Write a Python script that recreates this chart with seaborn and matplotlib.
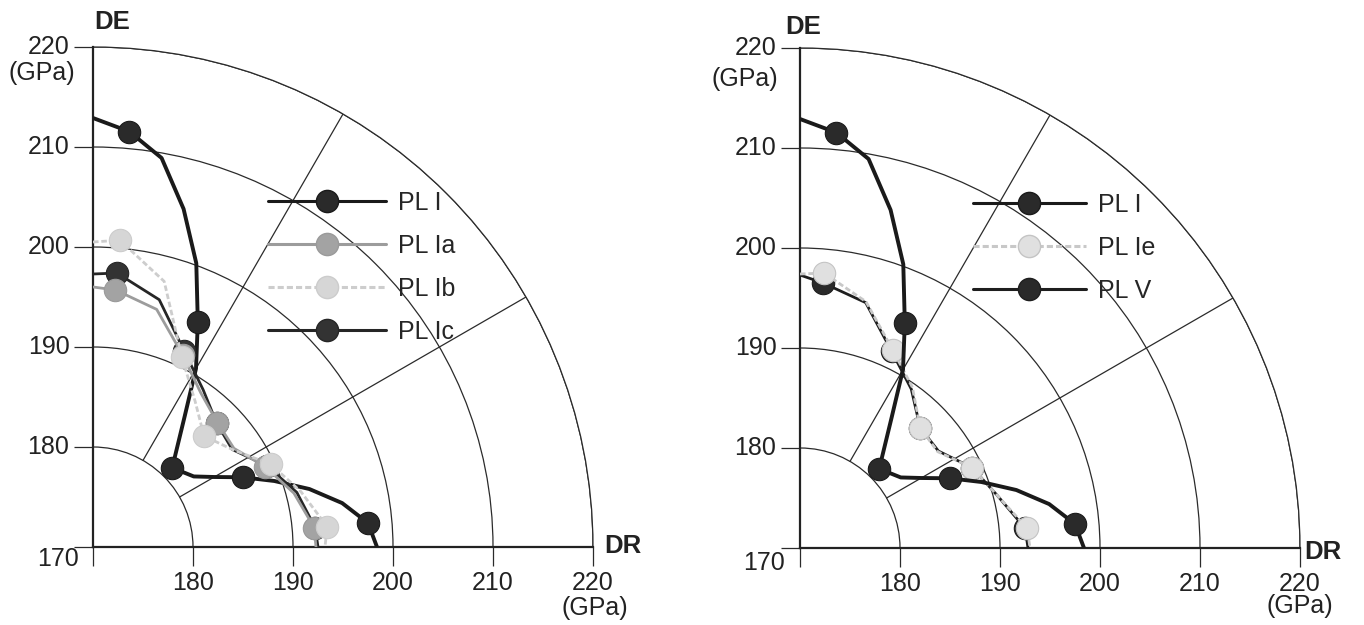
import numpy as np
import matplotlib
matplotlib.use("Agg")
import matplotlib.pyplot as plt
import seaborn as sns
from matplotlib.lines import Line2D
from matplotlib.ticker import FuncFormatter

# ---------------- data (angle in degrees from DR, value in GPa) ----------------
theta_mark = [85, 65, 45, 25, 5]          # angles carrying a marker

theta_pl1 = [90, 85, 80, 75, 70, 65, 60, 55, 45, 35, 30, 25, 20, 15, 10, 5, 0]
r_pl1 = [212.9, 211.7, 209.5, 205.0, 200.2, 194.8, 190.6, 186.0, 181.2, 182.3, 184.0,
         186.5, 189.3, 192.4, 195.3, 197.6, 198.4]

theta_mid = [90, 85, 75, 65, 55, 45, 35, 25, 15, 5, 0]
r_pl1c = [197.3, 197.5, 195.6, 191.6, 189.2, 187.5, 187.0, 189.2, 191.1, 192.3, 192.5]
r_pl1a = [196.0, 195.8, 194.6, 191.2, 188.8, 187.6, 187.2, 189.0, 190.8, 192.2, 192.3]
r_pl1b = [200.5, 200.8, 197.5, 191.0, 187.8, 185.7, 187.0, 189.6, 191.5, 193.5, 193.2]
r_pl1e = [197.4, 197.6, 195.5, 191.9, 189.6, 187.0, 186.8, 189.0, 190.4, 192.8, 193.0]
r_plv = [197.3, 196.6, 195.4, 191.7, 189.4, 187.0, 186.9, 189.0, 190.4, 192.6, 192.8]

r_ticks = [170, 180, 190, 200, 210, 220]
spoke_angles = [30, 60]
legend_left = ["PL I", "PL Ia", "PL Ib", "PL Ic"]
legend_right = ["PL I", "PL Ie", "PL V"]

# ---------------- style ----------------
sns.set_theme(style="white")
plt.rcParams["font.family"] = ["Liberation Sans", "DejaVu Sans"]
GRID = "#2b2b2b"
TXT = "#222222"

styles = {
    "PL I":  dict(lc="#1a1a1a", mc="#2a2a2a", ec="#1a1a1a", lw=2.8, ls="-"),
    "PL Ia": dict(lc="#9c9c9c", mc="#a3a3a3", ec="#9a9a9a", lw=2.0, ls="-"),
    "PL Ib": dict(lc="#cdcdcd", mc="#d6d6d6", ec="#cccccc", lw=2.0, ls=(0, (2, 1))),
    "PL Ic": dict(lc="#262626", mc="#333333", ec="#262626", lw=2.0, ls="-"),
    "PL Ie": dict(lc="#c8c8c8", mc="#e0e0e0", ec="#c4c4c4", lw=2.0, ls=(0, (2, 1))),
    "PL V":  dict(lc="#1e1e1e", mc="#2a2a2a", ec="#1e1e1e", lw=2.0, ls="-"),
}

fig = plt.figure(figsize=(13.64, 6.25), dpi=100)
W, H = 1364.0, 625.0


def draw_series(ax, name, theta, r, z):
    st = styles[name]
    th = np.deg2rad(theta)
    idx = [theta.index(t) for t in theta_mark]
    sns.lineplot(x=th, y=r, sort=False, ax=ax, color=st["lc"], lw=st["lw"],
                 linestyle=st["ls"], legend=False, zorder=z)
    sns.scatterplot(x=th[idx], y=np.asarray(r)[idx], ax=ax, color=st["mc"],
                    edgecolor=st["ec"], linewidth=0.8, s=260, legend=False,
                    zorder=z + 0.5)


def setup(ax):
    ax.set_thetamin(0)
    ax.set_thetamax(90)
    ax.set_rlim(r_ticks[0], r_ticks[-1])
    ax.set_rticks(r_ticks)
    ax.set_xticks([])
    ax.set_facecolor("white")
    ax.yaxis.grid(True, color=GRID, lw=0.9)
    ax.yaxis.set_major_formatter(FuncFormatter(lambda v, p: "" if v == r_ticks[0] else f"{v:.0f}"))
    ax.spines["polar"].set_linewidth(0.9)
    ax.spines["polar"].set_color(GRID)
    for s in ("start", "end"):
        ax.spines[s].set_linewidth(1.6)
        ax.spines[s].set_color(TXT)
    ax.spines["inner"].set_visible(False)
    ax.tick_params(axis="y", left=True, right=True, labelleft=True, labelright=True,
                   length=14, width=0.9, color=GRID, pad=3, labelsize=18,
                   labelrotation=0, direction="out", labelcolor=TXT)
    for a in spoke_angles:
        th = np.deg2rad(a)
        ax.plot([th, th], [r_ticks[1], r_ticks[-1]], color=GRID, lw=0.9, zorder=1)


def labels(ax, de_off, dr_off, gpa_y_off, gpa_x_off, o170):
    top = (np.pi / 2, r_ticks[-1])
    right = (0, r_ticks[-1])
    ax.annotate("DE", xy=top, xytext=de_off, textcoords="offset points",
                ha="center", va="center", fontsize=18.5, fontweight="bold",
                color=TXT, annotation_clip=False)
    ax.annotate("DR", xy=right, xytext=dr_off, textcoords="offset points",
                ha="left", va="center", fontsize=18.5, fontweight="bold",
                color=TXT, annotation_clip=False)
    ax.annotate("(GPa)", xy=top, xytext=gpa_y_off, textcoords="offset points",
                ha="right", va="center", fontsize=18, color=TXT,
                annotation_clip=False)
    ax.annotate("(GPa)", xy=right, xytext=gpa_x_off, textcoords="offset points",
                ha="center", va="center", fontsize=18, color=TXT,
                annotation_clip=False)
    ax.annotate(str(r_ticks[0]), xy=(0, r_ticks[0]), xytext=o170, textcoords="offset points",
                ha="right", va="center", fontsize=18, color=TXT,
                annotation_clip=False)


def make_legend(names, anchor, hl):
    handles = []
    for n in names:
        st = styles[n]
        handles.append(Line2D([], [], color=st["lc"], lw=2.2, linestyle=st["ls"],
                              marker="o", markersize=16, markerfacecolor=st["mc"],
                              markeredgecolor=st["ec"]))
    fig.legend(handles, names, loc="upper left", bbox_to_anchor=anchor, frameon=False,
               fontsize=18, handlelength=hl, handletextpad=0.5, labelspacing=0.76,
               borderpad=0, borderaxespad=0, numpoints=1)


# ---------------- left panel ----------------
axL = fig.add_axes([93 / W, (H - 547) / H, 500 / W, 500 / H], projection="polar")
setup(axL)
draw_series(axL, "PL I", theta_pl1, r_pl1, 3)
draw_series(axL, "PL Ic", theta_mid, r_pl1c, 4)
draw_series(axL, "PL Ia", theta_mid, r_pl1a, 5)
draw_series(axL, "PL Ib", theta_mid, r_pl1b, 6)
labels(axL, de_off=(14, 18), dr_off=(8, 1), gpa_y_off=(-13, -19), gpa_x_off=(1, -44),
       o170=(-10, -9))
make_legend(legend_left, (268 / W, 1 - 191 / H), 4.7)

# ---------------- right panel ----------------
axR = fig.add_axes([800 / W, (H - 548) / H, 500 / W, 500 / H], projection="polar")
setup(axR)
draw_series(axR, "PL V", theta_mid, r_plv, 3)
draw_series(axR, "PL Ie", theta_mid, r_pl1e, 4)
draw_series(axR, "PL I", theta_pl1, r_pl1, 5)
labels(axR, de_off=(2, 15), dr_off=(3, -3), gpa_y_off=(-16, -22), gpa_x_off=(0, -42),
       o170=(-11, -11))
make_legend(legend_right, (973 / W, 1 - 193 / H), 4.5)

fig.savefig("out.png", dpi=100, facecolor="white")
